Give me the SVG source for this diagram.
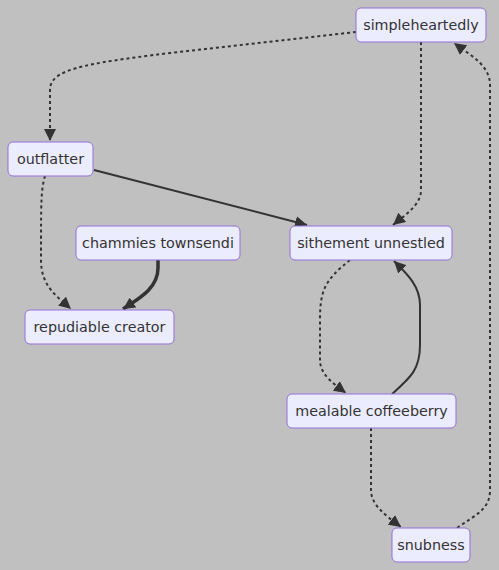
<svg xmlns="http://www.w3.org/2000/svg" width="499" height="570" viewBox="0 0 499 570">
<style>
.node rect{fill:#ECECFF;stroke:#9370DB;stroke-width:1}
.node text{font-family:"DejaVu Sans",Verdana,sans-serif;font-size:14.3px;fill:#333;text-anchor:middle;dominant-baseline:central}
.edge{fill:none;stroke:#333;stroke-width:2}
.dot{stroke-dasharray:3}
.thick{stroke-width:3.5}
</style>
<defs>
<marker id="arr" viewBox="0 0 10 10" refX="10" refY="5" markerUnits="userSpaceOnUse" markerWidth="12" markerHeight="12" orient="auto">
<path d="M0,0 L10,5 L0,10 z" fill="#333"/>
</marker>
</defs>
<rect width="499" height="570" fill="#c0c0c0"/>
<g id="edges">
<path class="edge dot" d="M356,32 L170,53 C80,64 50,70 50,90 L50,141" marker-end="url(#arr)"/>
<path class="edge dot" d="M421,42 L421,190 C421,205 405,215 393,225" marker-end="url(#arr)"/>
<path class="edge dot" d="M457,528 C475,515 490,510 490,490 L490,85 C490,65 470,55 454,43" marker-end="url(#arr)"/>
<path class="edge" d="M94,170 L307,225" marker-end="url(#arr)"/>
<path class="edge dot" d="M45,176 C41,190 41,200 41,260 C41,285 55,295 71,309" marker-end="url(#arr)"/>
<path class="edge thick" d="M158,260 L158,268 C158,288 140,298 123,309" marker-end="url(#arr)"/>
<path class="edge dot" d="M350,260 C325,280 320,290 320,320 L320,360 C320,375 335,385 346,393" marker-end="url(#arr)"/>
<path class="edge" d="M392,394 C410,378 420,370 420,345 L420,305 C420,285 405,272 394,261" marker-end="url(#arr)"/>
<path class="edge dot" d="M371,428 L371,490 C371,505 385,515 401,527" marker-end="url(#arr)"/>
</g>
<g id="simpleheartedly" class="node"><rect x="356" y="8" width="130" height="34" rx="5"/><text x="421" y="25">simpleheartedly</text></g>
<g id="outflatter" class="node"><rect x="8" y="142" width="85" height="34" rx="5"/><text x="50.5" y="159">outflatter</text></g>
<g id="chammies" class="node"><rect x="76" y="226" width="164" height="34" rx="5"/><text x="158" y="243">chammies townsendi</text></g>
<g id="sithement" class="node"><rect x="290" y="226" width="162" height="34" rx="5"/><text x="371" y="243">sithement unnestled</text></g>
<g id="repudiable" class="node"><rect x="25" y="310" width="149" height="34" rx="5"/><text x="99.5" y="327">repudiable creator</text></g>
<g id="mealable" class="node"><rect x="287" y="394" width="169" height="34" rx="5"/><text x="371.5" y="411">mealable coffeeberry</text></g>
<g id="snubness" class="node"><rect x="392" y="528" width="78" height="34" rx="5"/><text x="431" y="545">snubness</text></g>
</svg>
